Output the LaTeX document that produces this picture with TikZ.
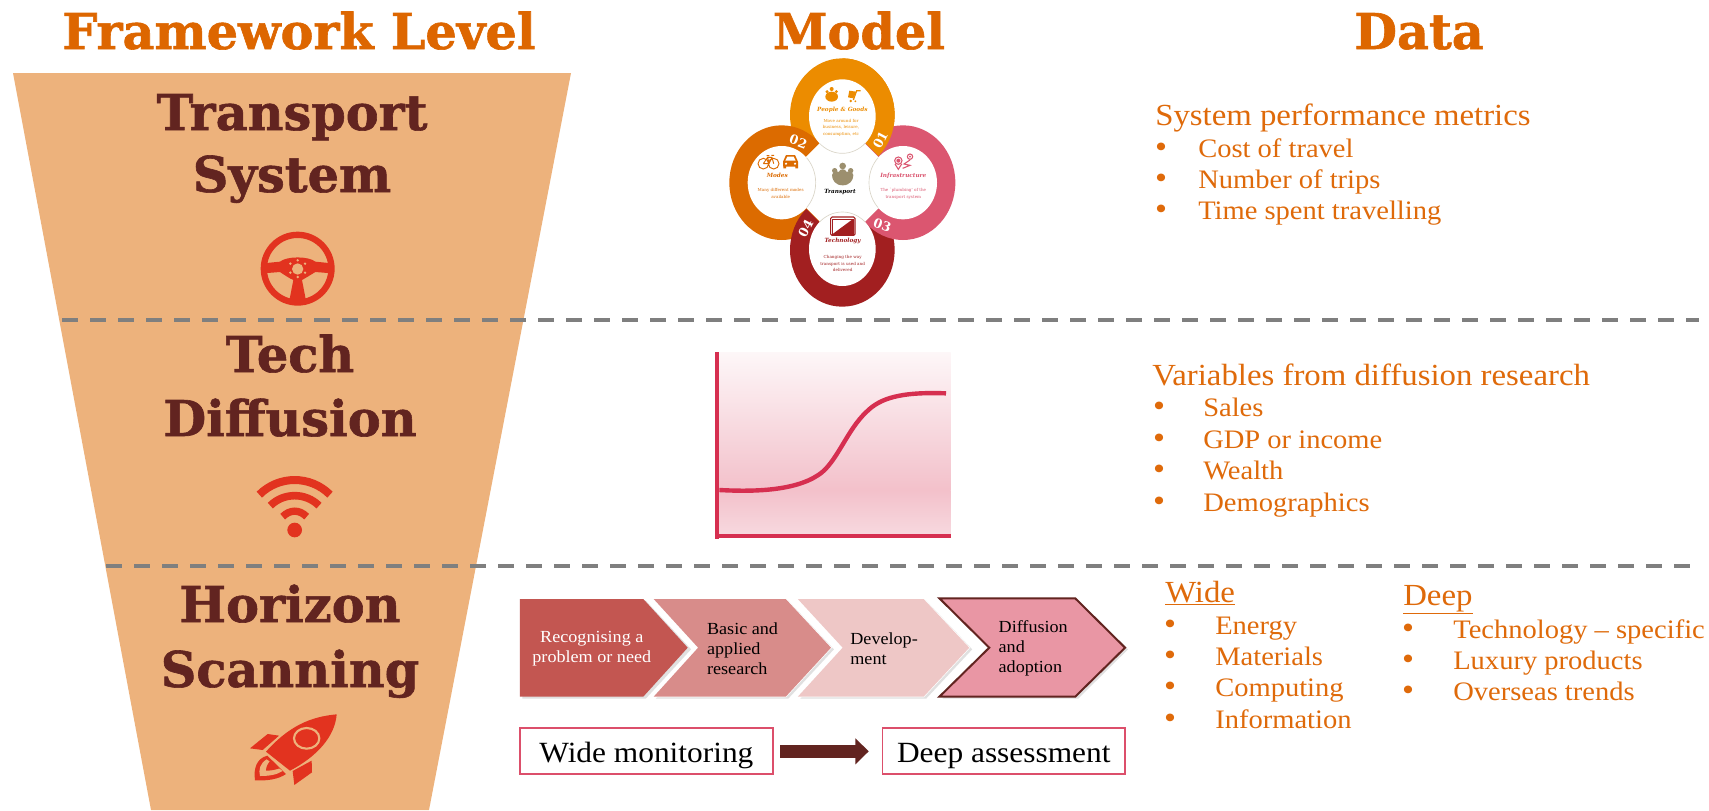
\documentclass[tikz,border=0pt]{standalone}
\usepackage{fontspec}
\usetikzlibrary{arrows.meta}
\setmainfont{Liberation Serif}
\newfontfamily\bodyf[FakeStretch=1.07]{Liberation Serif}
\newfontfamily\ringf{DejaVu Serif}
\newfontfamily\headf[FakeBold=1.2]{DejaVu Serif Bold}
\newcommand\fs[2]{\fontsize{#1}{#2}\selectfont}
\definecolor{funnel}{HTML}{EDB27C}
\definecolor{headc}{HTML}{DD6600}
\definecolor{darkred}{HTML}{622420}
\definecolor{iconred}{HTML}{E2331F}
\definecolor{bodyc}{HTML}{DF6A0A}
\definecolor{dashc}{HTML}{7F7F7F}
\definecolor{corange}{HTML}{EC8C00}
\definecolor{cdark}{HTML}{DC6B00}
\definecolor{cpink}{HTML}{DB5670}
\definecolor{cmaroon}{HTML}{A21F20}
\definecolor{ctan}{HTML}{9C8F6E}
\definecolor{cbeige}{HTML}{DAD5C8}
\definecolor{curvec}{HTML}{D62F50}
\definecolor{boxc}{HTML}{DC4F6B}
\definecolor{chevA}{HTML}{C35651}
\definecolor{chevB}{HTML}{D88C8A}
\definecolor{chevC}{HTML}{EEC7C6}
\definecolor{chevD}{HTML}{E996A4}
\tikzset{
  headtxt/.style={font=\headf\fs{37}{40},text=headc,anchor=base,inner sep=0pt},
  leveltxt/.style={font=\headf\fs{37}{40},text=darkred,anchor=base,inner sep=0pt},
  bodytxt/.style={font=\bodyf\fs{20}{23},text=bodyc,anchor=base west,inner sep=0pt},
  subtxt/.style={font=\bodyf\fs{23}{26},text=bodyc,anchor=base west,inner sep=0pt},
  bul/.style={font=\bodyf\fs{24}{26},text=bodyc,anchor=base,inner sep=0pt},
  ringttl/.style={font=\ringf\bfseries\itshape\fs{4.3}{5},inner sep=0pt},
  ringtxt/.style={font=\ringf\fs{3.1}{5},align=center,inner sep=0pt},
  ringnum/.style={font=\ringf\bfseries\fs{9.5}{10},text=white,inner sep=0pt},
  chevtxt/.style={font=\bodyf\fs{12.7}{15},align=left,inner sep=0pt,anchor=west},
  labbox/.style={draw=boxc,line width=1.4pt,fill=white,font=\bodyf\fs{22}{25},text=black,inner sep=0pt,minimum height=34.5pt,text height=16.5pt,text depth=0pt},
  dashline/.style={draw=dashc,line width=2.6pt,dash pattern=on 12pt off 9pt},
}
\begin{document}
\begin{tikzpicture}[x=0.75pt,y=-0.75pt]
\useasboundingbox (0,0) rectangle (1709,810);
\fill[white] (0,0) rectangle (1709,810);
% funnel
\fill[funnel] (13,73) -- (571,73) -- (429,810) -- (151,810) -- cycle;
% heads
\node[headtxt] (h1) at (299,49) {Framework Level};
\node[headtxt] (h2) at (859,49) {Model};
\node[headtxt] (h3) at (1419,49) {Data};
% level names
\node[leveltxt] (l1a) at (292,130) {Transport};
\node[leveltxt] (l1b) at (292,192) {System};
\node[leveltxt] (l2a) at (290,372) {Tech};
\node[leveltxt] (l2b) at (290,436) {Diffusion};
\node[leveltxt] (l3a) at (290,622) {Horizon};
\node[leveltxt] (l3b) at (290,687) {Scanning};
% dashed separators
\coordinate (d1a) at (62,320); \coordinate (d1b) at (1699,320);
\coordinate (d2a) at (106,566); \coordinate (d2b) at (1699,566);
\draw[dashline] (d1a) -- (d1b);
\draw[dashline] (d2a) -- (d2b);
% steering wheel
\begin{scope}[shift={(230,210)},x=.25pt,y=-.25pt]
\fill[iconred,even odd rule] (203,176) circle [radius=111] (203,176) circle [radius=92];
\fill[iconred] (100,160) -- (150,155) .. controls (170,138) and (236,138) .. (256,155) -- (306,160) -- (306,190) -- (256,186) .. controls (240,196) and (225,205) .. (216,210) -- (228,272) -- (178,272) -- (190,210) .. controls (178,205) and (165,196) .. (150,186) -- (100,190) -- cycle;
\fill[funnel] (203,177) circle [radius=17];
\fill[funnel] (203,151) circle [radius=4] (225,161) circle [radius=4] (225,188) circle [radius=4] (203,201) circle [radius=4] (181,188) circle [radius=4] (181,161) circle [radius=4];
\end{scope}
% wifi
\begin{scope}[shift={(230,460)},x=.25pt,y=-.25pt]
\fill[iconred] (194,210) circle [radius=22];
\draw[iconred,line width=6pt] (88,104) .. controls (146.7,45.4) and (241.3,45.4) .. (300,104);
\draw[iconred,line width=5.7pt] (121,137) .. controls (161,97) and (227,97) .. (267,137);
\draw[iconred,line width=5.5pt] (158,170) .. controls (180,148) and (208,148) .. (230,170);
\end{scope}
% rocket
\begin{scope}[shift={(230,700)},x=.25pt,y=-.25pt]
\fill[iconred] (320,43) .. controls (240,50) and (175,80) .. (108,155) -- (180,212) .. controls (260,170) and (315,110) .. (320,43) -- cycle;
\draw[funnel,line width=1.6pt] (230,115) circle [x radius=38,y radius=31];
\fill[iconred] (60,145) -- (113,102) -- (147,107) -- (98,150) -- cycle;
\fill[iconred] (245,182) -- (246,217) -- (193,255) -- (188,213) -- cycle;
\fill[iconred] (112,167) .. controls (80,175) and (70,205) .. (75,241) .. controls (110,243) and (145,238) .. (168,222) -- cycle;
\fill[funnel] (110,178) .. controls (90,190) and (85,210) .. (90,228) .. controls (115,228) and (140,225) .. (158,213) -- cycle;
\fill[iconred] (122,181) -- (148,205) .. controls (135,210) and (120,212) .. (108,212) .. controls (108,200) and (114,190) .. (122,181) -- cycle;
\end{scope}
% model rings
\begin{scope}[shift={(700,40)},x=.25pt,y=-.25pt]
\begin{scope}\clip (427,240) -- ++(400,400) -- ++(0,-800) -- ++(-800,0) -- ++(0,800) -- cycle;
\fill[corange] (427,225) ellipse [x radius=157,y radius=170];\end{scope}
\begin{scope}\clip (241,427) -- ++(400,-400) -- ++(-800,0) -- ++(0,800) -- ++(800,0) -- cycle;
\fill[cdark] (245,428) ellipse [x radius=157,y radius=172];\end{scope}
\begin{scope}\clip (427,615) -- ++(-400,-400) -- ++(0,800) -- ++(800,0) -- ++(0,-800) -- cycle;
\fill[cmaroon] (427,630) ellipse [x radius=157,y radius=170];\end{scope}
\begin{scope}\clip (613,428) -- ++(-400,-400) -- ++(800,0) -- ++(0,800) -- ++(-800,0) -- cycle;
\fill[cpink] (609,428) ellipse [x radius=157,y radius=172];\end{scope}
\begin{scope}\clip (427,40) rectangle (800,420);\clip (427,240) -- ++(400,400) -- ++(0,-800) -- ++(-800,0) -- ++(0,800) -- cycle;
\fill[corange] (427,225) ellipse [x radius=157,y radius=170];\end{scope}
% inner whites
\fill[white] (427,229) ellipse [x radius=100,y radius=111];
\fill[white] (245,428) ellipse [x radius=102,y radius=110];
\fill[white] (427,627) ellipse [x radius=100,y radius=111];
\fill[white] (609,428) ellipse [x radius=102,y radius=110];
\begin{scope}\clip (427,240) -- ++(200,200) -- ++(-400,0) -- cycle;
\draw[cbeige,line width=.5pt] (427,229) ellipse [x radius=100,y radius=111];\end{scope}
\begin{scope}\clip (245,428) -- ++(200,-200) -- ++(0,400) -- cycle;
\draw[cbeige,line width=.5pt] (245,428) ellipse [x radius=102,y radius=110];\end{scope}
\begin{scope}\clip (427,615) -- ++(200,-200) -- ++(-400,0) -- cycle;
\draw[cbeige,line width=.5pt] (427,627) ellipse [x radius=100,y radius=111];\end{scope}
\begin{scope}\clip (609,428) -- ++(-200,-200) -- ++(0,400) -- cycle;
\draw[cbeige,line width=.5pt] (609,428) ellipse [x radius=102,y radius=110];\end{scope}
% ring labels
\node[ringttl,text=corange] (t1) at (427,209) {People \& Goods};
\node[ringtxt,text=corange] (d1) at (423,263) {Move around for\\business, leisure,\\consumption, etc};
\node[ringttl,text=cdark] (t2) at (232,407) {Modes};
\node[ringtxt,text=cdark] (d2) at (242,460) {Many different modes\\available};
\node[ringttl,text=cpink] (t3) at (610,407) {Infrastructure};
\node[ringtxt,text=cpink] (d3) at (610,462) {The `plumbing' of the\\transport system};
\node[ringttl,text=cmaroon] (t4) at (428,602) {Technology};
\node[ringtxt,text=cmaroon] (d4) at (428,671) {Changing the way\\transport is used and\\delivered};
\node[ringttl,text=black] (t0) at (420,455) {Transport};
\node[ringnum,rotate=62] (n1) at (541,300) {01};
\node[ringnum,rotate=-20] (n2) at (295,305) {02};
\node[ringnum,rotate=-20] (n3) at (547,556) {03};
\node[ringnum,rotate=62] (n4) at (317,566) {04};
% centre icon
\fill[ctan] (428,378) circle [radius=10] (404,392) circle [radius=8] (452,392) circle [radius=8];
\fill[ctan] (396,405) .. controls (398,395) and (412,392) .. (416,396) .. controls (420,385) and (436,385) .. (440,396) .. controls (444,392) and (458,395) .. (460,405) .. controls (460,420) and (450,436) .. (428,436) .. controls (406,436) and (396,420) .. (396,405) -- cycle;
% people icon
\fill[corange] (395,170) ellipse [x radius=19,y radius=15];
\fill[corange] (395,147) circle [radius=6] (381,155) circle [radius=5] (409,155) circle [radius=5];
% cart icon
\draw[corange,line width=.9pt] (482,152) -- (470,152) -- (460,180);
\fill[corange] (448,152) -- (468,155) -- (460,175) -- (444,172) -- cycle;
\fill[corange] (452,183) circle [radius=4] (466,184) circle [radius=3];
% bike
\draw[cdark,line width=.7pt] (190,371) circle [radius=16] (221,371) circle [radius=16];
\draw[cdark,line width=.7pt] (190,371) -- (203,352) -- (216,352) -- (221,371) (203,352) -- (207,371) -- (190,371) (207,371) -- (216,352) (200,347) -- (208,347) (214,346) -- (222,346);
% car
\fill[cdark] (249,365) -- (258,345) -- (285,345) -- (294,365) -- (294,385) -- (286,385) -- (286,380) -- (258,380) -- (258,385) -- (250,385) -- cycle;
\fill[white] (256,362) -- (262,350) -- (281,350) -- (287,362) -- cycle;
\fill[white] (258,371) circle [radius=3.5] (285,371) circle [radius=3.5];
% infrastructure icon
\draw[cpink,line width=.8pt] (595,362) circle [radius=11];
\fill[cpink] (595,362) circle [radius=6];
\draw[cpink,line width=.8pt] (585,372) -- (595,388) -- (605,372);
\draw[cpink,line width=.8pt] (630,350) circle [radius=8];
\fill[cpink] (630,350) circle [radius=3];
\draw[cpink,line width=.8pt] (608,385) -- (630,376) -- (612,372) -- (630,360);
% tablet icon
\draw[cmaroon,line width=.8pt,rounded corners=1pt] (392,531) rectangle (465,586);
\fill[cmaroon] (398,582) -- (459,537) -- (459,582) -- cycle;
\draw[cmaroon,line width=.5pt] (398,537) rectangle (459,582);
\end{scope}
% S-curve chart
\begin{scope}[shift={(700,340)},x=.25pt,y=-.25pt]
\shade[top color=white!96!curvec,bottom color=curvec!30] (52,37) rectangle (752,450);
\shade[top color=curvec!30,bottom color=curvec!18] (52,450) rectangle (752,590);
\draw[curvec,line width=3pt] (52,37) -- (52,596);
\draw[curvec,line width=3.2pt] (46,587) -- (752,587);
\draw[curvec,line width=3.3pt] (58,450) .. controls (150,455) and (280,455) .. (355,405) .. controls (410,370) and (440,270) .. (500,215) .. controls (540,175) and (600,155) .. (738,160);
\end{scope}
% chevrons
\begin{scope}[shift={(500,580)},x=.3115pt,y=-.25pt]
\fill[black!12] (54,62) -- (351,62) -- (460,208) -- (351,356) -- (54,356) -- cycle;
\fill[black!12] (375,62) -- (694,62) -- (804,208) -- (694,356) -- (375,356) -- (483,208) -- cycle;
\fill[black!12] (723,62) -- (1026,62) -- (1137,208) -- (1026,356) -- (723,356) -- (831,208) -- cycle;
\fill[black!12] (1065,61) -- (1392,61) -- (1512,208) -- (1392,356) -- (1065,356) -- (1185,208) -- cycle;
\fill[white,draw=white,line width=1pt] (370,57) -- (688,57) -- (797,203) -- (688,350) -- (370,350) -- (477,203) -- cycle;
\fill[white,draw=white,line width=1pt] (717,57) -- (1020,57) -- (1130,203) -- (1020,350) -- (717,350) -- (825,203) -- cycle;
\fill[chevA] (48,57) -- (345,57) -- (452,203) -- (345,350) -- (48,350) -- cycle;
\fill[chevB] (370,57) -- (688,57) -- (797,203) -- (688,350) -- (370,350) -- (477,203) -- cycle;
\fill[chevC] (717,57) -- (1020,57) -- (1130,203) -- (1020,350) -- (717,350) -- (825,203) -- cycle;
\path[fill=chevD,draw=darkred,line width=1.5pt] (1058,55) -- (1385,55) -- (1505,203) -- (1385,350) -- (1058,350) -- (1178,203) -- cycle;
\node[chevtxt,text=white,align=center,anchor=center] (c1) at (221,206) {Recognising a\\problem or need};
\node[chevtxt,text=black] (c2) at (498,205) {Basic and\\applied\\research};
\node[chevtxt,text=black] (c3) at (843,206) {Develop-\\ment};
\node[chevtxt,text=black] (c4) at (1200,205) {Diffusion\\and\\adoption};
% boxes + arrow
\node[labbox,minimum width=189.7pt] (wm) at (352.5,514) {Wide monitoring};
\node[labbox,minimum width=182pt] (da) at (1213,514) {Deep assessment};
\draw[darkred,line width=10pt,-{Triangle[length=10pt,width=19pt]},shorten <=5pt,shorten >=9.6pt] (wm) -- (da);
\end{scope}
% data texts
\node[subtxt] (s0) at (1155,125) {System performance metrics};
\node[bodytxt] (s1) at (1198,157) {Cost of travel};
\node[bodytxt] (s2) at (1198,188) {Number of trips};
\node[bodytxt] (s3) at (1198,219) {Time spent travelling};
\node[bul] (sb1) at (1161,157) {•};
\node[bul] (sb2) at (1161,188) {•};
\node[bul] (sb3) at (1161,219) {•};
\node[subtxt] (v0) at (1152,385) {Variables from diffusion research};
\node[bodytxt] (v1) at (1203,416) {Sales};
\node[bodytxt] (v2) at (1203,448) {GDP or income};
\node[bodytxt] (v3) at (1203,479) {Wealth};
\node[bodytxt] (v4) at (1203,511) {Demographics};
\node[bul] (vb1) at (1159,416) {•};
\node[bul] (vb2) at (1159,448) {•};
\node[bul] (vb3) at (1159,479) {•};
\node[bul] (vb4) at (1159,511) {•};
\node[subtxt] (w0) at (1165,602) {\underline{Wide}};
\node[bodytxt] (w1) at (1215,634) {Energy};
\node[bodytxt] (w2) at (1215,665) {Materials};
\node[bodytxt] (w3) at (1215,696) {Computing};
\node[bodytxt] (w4) at (1215,728) {Information};
\node[bul] (wb1) at (1170,634) {•};
\node[bul] (wb2) at (1170,665) {•};
\node[bul] (wb3) at (1170,696) {•};
\node[bul] (wb4) at (1170,728) {•};
\node[subtxt] (e0) at (1403,605) {\underline{Deep}};
\node[bodytxt] (e1) at (1453,638) {Technology – specific};
\node[bodytxt] (e2) at (1453,669) {Luxury products};
\node[bodytxt] (e3) at (1453,700) {Overseas trends};
\node[bul] (eb1) at (1408,638) {•};
\node[bul] (eb2) at (1408,669) {•};
\node[bul] (eb3) at (1408,700) {•};
\end{tikzpicture}
\end{document}
